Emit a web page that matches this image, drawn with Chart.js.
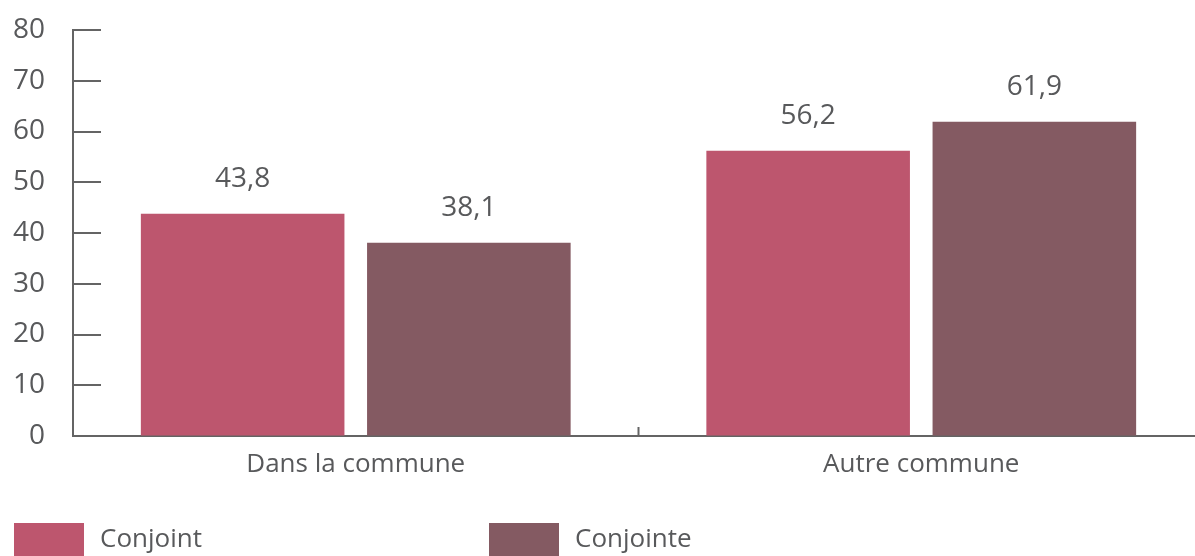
<!DOCTYPE html>
<html lang="fr">
<head>
  <meta charset="UTF-8">
  <title>Conjoint / Conjointe</title>
  <script src="https://cdn.jsdelivr.net/npm/chart.js@4.4.2/dist/chart.umd.min.js"></script>
  <style>
    html, body { margin: 0; padding: 0; background: #fff; overflow: hidden; }
    .wrap { width: 1204px; height: 556px; position: relative; }
  </style>
</head>
<body>
<div class="wrap"><canvas id="chart" width="1204" height="556"></canvas></div>
<script>
  // data
  const categories = ['Dans la commune', 'Autre commune'];
  const seriesNames = ['Conjoint', 'Conjointe'];
  const conjoint = [43.8, 56.2];
  const conjointe = [38.1, 61.9];
  const yTicks = [0, 10, 20, 30, 40, 50, 60, 70, 80];

  const colors = ['#bd566e', '#845a62'];
  const textGray = '#58595b';
  const axisGray = '#646464';
  const font = '"Open Sans", "Noto Sans", sans-serif';

  // inward tick marks, category separator, value labels and legend
  const extras = {
    id: 'extras',
    afterDraw(chart) {
      const c = chart.ctx;
      const y = chart.scales.y, x = chart.scales.x;
      const area = chart.chartArea;
      c.save();
      c.strokeStyle = axisGray;
      c.lineWidth = 2;
      yTicks.forEach(v => {
        const py = Math.round(y.getPixelForValue(v));
        c.beginPath();
        c.moveTo(area.left, py);
        c.lineTo(area.left + 28, py);
        c.stroke();
      });
      // separator between the two categories
      const sep = (x.getPixelForValue(0) + x.getPixelForValue(1)) / 2;
      c.beginPath();
      c.moveTo(sep, area.bottom);
      c.lineTo(sep, area.bottom - 9);
      c.stroke();

      // value labels
      c.fillStyle = textGray;
      c.font = '28px ' + font;
      c.textAlign = 'center';
      c.textBaseline = 'alphabetic';
      chart.data.datasets.forEach((ds, i) => {
        chart.getDatasetMeta(i).data.forEach((bar, j) => {
          c.fillText(ds.data[j].toFixed(1).replace('.', ','), bar.x, bar.y - 27);
        });
      });

      // legend
      const legendX = [14, 489];
      c.font = '26px ' + font;
      c.textAlign = 'left';
      c.textBaseline = 'middle';
      seriesNames.forEach((name, i) => {
        c.fillStyle = colors[i];
        c.fillRect(legendX[i], 523, 70, 40);
        c.fillStyle = textGray;
        c.fillText(name, legendX[i] + 86, 540);
      });
      c.restore();
    }
  };

  new Chart(document.getElementById('chart'), {
    type: 'bar',
    data: {
      labels: categories,
      datasets: [
        { label: seriesNames[0], data: conjoint, backgroundColor: colors[0] },
        { label: seriesNames[1], data: conjointe, backgroundColor: colors[1] }
      ]
    },
    options: {
      responsive: false,
      animation: false,
      devicePixelRatio: 1,
      layout: { padding: { top: 30, right: 0, bottom: 70, left: 0 } },
      datasets: { bar: { categoryPercentage: 0.8, barPercentage: 0.9 } },
      plugins: { legend: { display: false }, tooltip: { enabled: false } },
      scales: {
        x: {
          afterFit(scale) { scale.height = 50; scale.paddingLeft = 0; scale.paddingRight = 0; },
          grid: { display: false },
          border: { display: true, color: axisGray, width: 2 },
          ticks: { color: textGray, font: { family: font, size: 26 }, padding: 5 }
        },
        y: {
          min: 0,
          max: 80,
          afterFit(scale) { scale.width = 73; scale.paddingTop = 0; scale.paddingBottom = 0; },
          afterBuildTicks(scale) { scale.ticks = yTicks.map(v => ({ value: v })); },
          grid: { display: true, drawOnChartArea: false, drawTicks: false, tickLength: 0 },
          border: { display: true, color: axisGray, width: 2 },
          ticks: { color: textGray, font: { family: font, size: 28 }, padding: 28 }
        }
      }
    },
    plugins: [extras]
  });
</script>
</body>
</html>
